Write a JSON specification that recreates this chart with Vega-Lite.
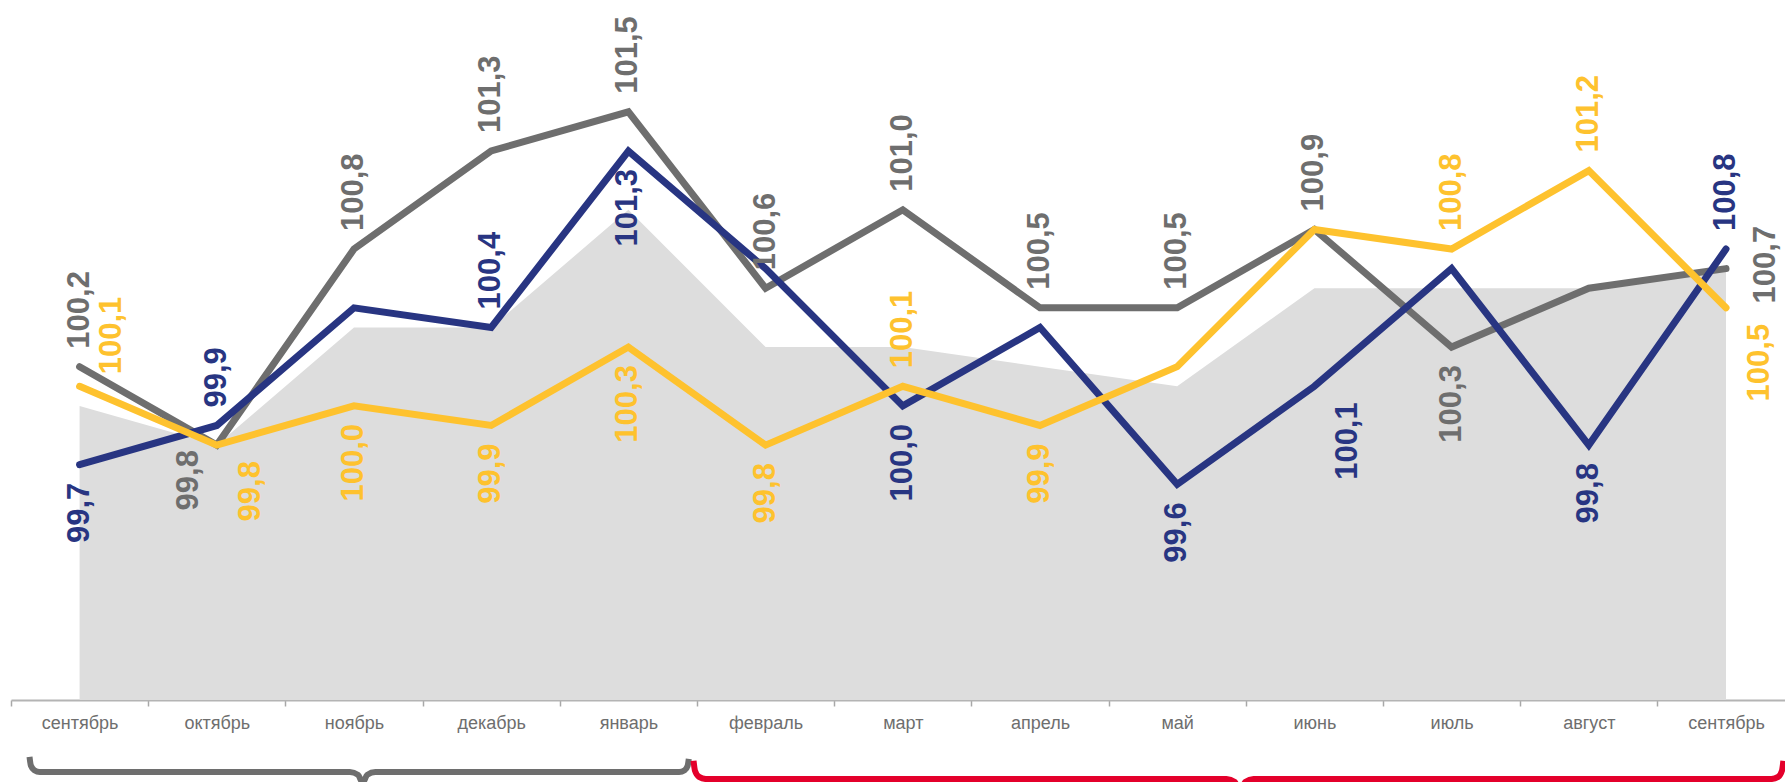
{
  "$schema": "https://vega.github.io/schema/vega-lite/v6.json",
  "width": 1774,
  "height": 700,
  "autosize": {"type": "none"},
  "padding": {"left": 11, "top": 0, "right": 0, "bottom": 82},
  "background": "white",
  "config": {
    "view": {"stroke": null},
    "font": "Liberation Sans",
    "locale": {"number": {"decimal": ",", "thousands": " ", "grouping": [3], "currency": ["", " ₽"]}}
  },
  "datasets": {
    "area": [
      {"i": 0, "month": "сентябрь", "value": 100.0},
      {"i": 1, "month": "октябрь", "value": 99.8},
      {"i": 2, "month": "ноябрь", "value": 100.4},
      {"i": 3, "month": "декабрь", "value": 100.4},
      {"i": 4, "month": "январь", "value": 101.0},
      {"i": 5, "month": "февраль", "value": 100.3},
      {"i": 6, "month": "март", "value": 100.3},
      {"i": 7, "month": "апрель", "value": 100.2},
      {"i": 8, "month": "май", "value": 100.1},
      {"i": 9, "month": "июнь", "value": 100.6},
      {"i": 10, "month": "июль", "value": 100.6},
      {"i": 11, "month": "август", "value": 100.6},
      {"i": 12, "month": "сентябрь", "value": 100.7}
    ],
    "lines": [
      {"series": "Ряд 1", "i": 0, "month": "сентябрь", "value": 100.2, "pos": "up"},
      {"series": "Ряд 1", "i": 1, "month": "октябрь", "value": 99.8, "pos": "downL"},
      {"series": "Ряд 1", "i": 2, "month": "ноябрь", "value": 100.8, "pos": "up"},
      {"series": "Ряд 1", "i": 3, "month": "декабрь", "value": 101.3, "pos": "up"},
      {"series": "Ряд 1", "i": 4, "month": "январь", "value": 101.5, "pos": "up"},
      {"series": "Ряд 1", "i": 5, "month": "февраль", "value": 100.6, "pos": "up"},
      {"series": "Ряд 1", "i": 6, "month": "март", "value": 101.0, "pos": "up"},
      {"series": "Ряд 1", "i": 7, "month": "апрель", "value": 100.5, "pos": "up"},
      {"series": "Ряд 1", "i": 8, "month": "май", "value": 100.5, "pos": "up"},
      {"series": "Ряд 1", "i": 9, "month": "июнь", "value": 100.9, "pos": "up"},
      {"series": "Ряд 1", "i": 10, "month": "июль", "value": 100.3, "pos": "down"},
      {"series": "Ряд 1", "i": 11, "month": "август", "value": 100.6, "pos": "none"},
      {"series": "Ряд 1", "i": 12, "month": "сентябрь", "value": 100.7, "pos": "right"},
      {"series": "Ряд 2", "i": 0, "month": "сентябрь", "value": 99.7, "pos": "down"},
      {"series": "Ряд 2", "i": 1, "month": "октябрь", "value": 99.9, "pos": "up"},
      {"series": "Ряд 2", "i": 2, "month": "ноябрь", "value": 100.5, "pos": "none"},
      {"series": "Ряд 2", "i": 3, "month": "декабрь", "value": 100.4, "pos": "up"},
      {"series": "Ряд 2", "i": 4, "month": "январь", "value": 101.3, "pos": "down"},
      {"series": "Ряд 2", "i": 5, "month": "февраль", "value": 100.7, "pos": "none"},
      {"series": "Ряд 2", "i": 6, "month": "март", "value": 100.0, "pos": "down"},
      {"series": "Ряд 2", "i": 7, "month": "апрель", "value": 100.4, "pos": "none"},
      {"series": "Ряд 2", "i": 8, "month": "май", "value": 99.6, "pos": "down"},
      {"series": "Ряд 2", "i": 9, "month": "июнь", "value": 100.1, "pos": "downR"},
      {"series": "Ряд 2", "i": 10, "month": "июль", "value": 100.7, "pos": "none"},
      {"series": "Ряд 2", "i": 11, "month": "август", "value": 99.8, "pos": "down"},
      {"series": "Ряд 2", "i": 12, "month": "сентябрь", "value": 100.8, "pos": "up"},
      {"series": "Ряд 3", "i": 0, "month": "сентябрь", "value": 100.1, "pos": "upR"},
      {"series": "Ряд 3", "i": 1, "month": "октябрь", "value": 99.8, "pos": "downR"},
      {"series": "Ряд 3", "i": 2, "month": "ноябрь", "value": 100.0, "pos": "down"},
      {"series": "Ряд 3", "i": 3, "month": "декабрь", "value": 99.9, "pos": "down"},
      {"series": "Ряд 3", "i": 4, "month": "январь", "value": 100.3, "pos": "down"},
      {"series": "Ряд 3", "i": 5, "month": "февраль", "value": 99.8, "pos": "down"},
      {"series": "Ряд 3", "i": 6, "month": "март", "value": 100.1, "pos": "up"},
      {"series": "Ряд 3", "i": 7, "month": "апрель", "value": 99.9, "pos": "down"},
      {"series": "Ряд 3", "i": 8, "month": "май", "value": 100.2, "pos": "none"},
      {"series": "Ряд 3", "i": 9, "month": "июнь", "value": 100.9, "pos": "none"},
      {"series": "Ряд 3", "i": 10, "month": "июль", "value": 100.8, "pos": "up"},
      {"series": "Ряд 3", "i": 11, "month": "август", "value": 101.2, "pos": "up"},
      {"series": "Ряд 3", "i": 12, "month": "сентябрь", "value": 100.5, "pos": "downR"}
    ],
    "brackets": [
      {"series": "скобка 1", "ord": 1, "i": -0.365, "value": 98.21},
      {"series": "скобка 1", "ord": 2, "i": -0.355, "value": 98.165},
      {"series": "скобка 1", "ord": 3, "i": -0.33, "value": 98.142},
      {"series": "скобка 1", "ord": 4, "i": -0.29, "value": 98.133},
      {"series": "скобка 1", "ord": 5, "i": 1.97, "value": 98.133},
      {"series": "скобка 1", "ord": 6, "i": 2.03, "value": 98.118},
      {"series": "скобка 1", "ord": 7, "i": 2.063, "value": 98.078},
      {"series": "скобка 1", "ord": 8, "i": 2.096, "value": 98.118},
      {"series": "скобка 1", "ord": 9, "i": 2.156, "value": 98.133},
      {"series": "скобка 1", "ord": 10, "i": 4.37, "value": 98.133},
      {"series": "скобка 1", "ord": 11, "i": 4.41, "value": 98.142},
      {"series": "скобка 1", "ord": 12, "i": 4.432, "value": 98.165},
      {"series": "скобка 1", "ord": 13, "i": 4.44, "value": 98.2},
      {"series": "скобка 2", "ord": 1, "i": 4.475, "value": 98.19},
      {"series": "скобка 2", "ord": 2, "i": 4.485, "value": 98.14},
      {"series": "скобка 2", "ord": 3, "i": 4.515, "value": 98.108},
      {"series": "скобка 2", "ord": 4, "i": 4.565, "value": 98.097},
      {"series": "скобка 2", "ord": 5, "i": 8.36, "value": 98.097},
      {"series": "скобка 2", "ord": 6, "i": 8.42, "value": 98.082},
      {"series": "скобка 2", "ord": 7, "i": 8.458, "value": 98.03},
      {"series": "скобка 2", "ord": 8, "i": 8.496, "value": 98.082},
      {"series": "скобка 2", "ord": 9, "i": 8.556, "value": 98.097},
      {"series": "скобка 2", "ord": 10, "i": 12.33, "value": 98.097},
      {"series": "скобка 2", "ord": 11, "i": 12.38, "value": 98.108},
      {"series": "скобка 2", "ord": 12, "i": 12.408, "value": 98.14},
      {"series": "скобка 2", "ord": 13, "i": 12.418, "value": 98.19}
    ]
  },
  "encoding": {
    "x": {
      "field": "i",
      "type": "quantitative",
      "scale": {"domain": [-0.5, 12.43], "nice": false, "zero": false},
      "axis": {
        "values": [-0.5, 0.5, 1.5, 2.5, 3.5, 4.5, 5.5, 6.5, 7.5, 8.5, 9.5, 10.5, 11.5],
        "labelExpr": "['сентябрь','октябрь','ноябрь','декабрь','январь','февраль','март','апрель','май','июнь','июль','август','сентябрь'][round(datum.value + 0.5)]",
        "labelOffset": 68.6,
        "title": null,
        "grid": false,
        "domainColor": "#b4b4b4",
        "domainWidth": 2,
        "tickColor": "#a8a8a8",
        "tickWidth": 1.5,
        "tickSize": 6,
        "labelFont": "Liberation Sans",
        "labelFontSize": 18,
        "labelColor": "#6e6e6e",
        "labelPadding": 8,
        "labelFlush": false,
        "labelOverlap": false,
        "labelBound": false
      }
    },
    "y": {
      "field": "value",
      "type": "quantitative",
      "scale": {"domain": [98.5, 102.07], "nice": false, "zero": false},
      "axis": null
    },
    "color": {
      "field": "series",
      "type": "nominal",
      "scale": {
        "domain": ["Ряд 1", "Ряд 2", "Ряд 3", "скобка 1", "скобка 2"],
        "range": ["#6e6e6e", "#283582", "#fec22e", "#6e6e6e", "#e4002b"]
      },
      "legend": null
    }
  },
  "layer": [
    {
      "data": {"name": "area"},
      "mark": {"type": "area", "color": "#dddddd"},
      "encoding": {"y2": {"datum": 98.5}, "color": {"value": "#dddddd"}}
    },
    {
      "data": {"name": "lines"},
      "mark": {"type": "line", "strokeWidth": 7, "strokeCap": "round", "strokeJoin": "miter"},
      "encoding": {"order": {"field": "i"}}
    },
    {
      "data": {"name": "brackets"},
      "mark": {"type": "line", "strokeWidth": 6, "strokeCap": "butt", "strokeJoin": "round", "interpolate": "monotone", "clip": false},
      "encoding": {"order": {"field": "ord"}}
    },
    {
      "data": {"name": "lines"},
      "transform": [{"filter": "datum.pos === 'up'"}],
      "mark": {"type": "text", "angle": 270, "align": "left", "baseline": "middle", "dx": 18, "dy": 0, "fontSize": 31, "fontWeight": "bold", "font": "Liberation Sans"},
      "encoding": {"text": {"field": "value", "type": "quantitative", "format": ".1f"}}
    },
    {
      "data": {"name": "lines"},
      "transform": [{"filter": "datum.pos === 'down'"}],
      "mark": {"type": "text", "angle": 270, "align": "right", "baseline": "middle", "dx": -18, "dy": 0, "fontSize": 31, "fontWeight": "bold", "font": "Liberation Sans"},
      "encoding": {"text": {"field": "value", "type": "quantitative", "format": ".1f"}}
    },
    {
      "data": {"name": "lines"},
      "transform": [{"filter": "datum.pos === 'upR'"}],
      "mark": {"type": "text", "angle": 270, "align": "left", "baseline": "middle", "dx": 12, "dy": 32, "fontSize": 31, "fontWeight": "bold", "font": "Liberation Sans"},
      "encoding": {"text": {"field": "value", "type": "quantitative", "format": ".1f"}}
    },
    {
      "data": {"name": "lines"},
      "transform": [{"filter": "datum.pos === 'downR'"}],
      "mark": {"type": "text", "angle": 270, "align": "right", "baseline": "middle", "dx": -16, "dy": 34, "fontSize": 31, "fontWeight": "bold", "font": "Liberation Sans"},
      "encoding": {"text": {"field": "value", "type": "quantitative", "format": ".1f"}}
    },
    {
      "data": {"name": "lines"},
      "transform": [{"filter": "datum.pos === 'downL'"}],
      "mark": {"type": "text", "angle": 270, "align": "right", "baseline": "middle", "dx": -5, "dy": -28, "fontSize": 31, "fontWeight": "bold", "font": "Liberation Sans"},
      "encoding": {"text": {"field": "value", "type": "quantitative", "format": ".1f"}}
    },
    {
      "data": {"name": "lines"},
      "transform": [{"filter": "datum.pos === 'right'"}],
      "mark": {"type": "text", "angle": 270, "align": "center", "baseline": "middle", "dx": 4, "dy": 40, "fontSize": 31, "fontWeight": "bold", "font": "Liberation Sans"},
      "encoding": {"text": {"field": "value", "type": "quantitative", "format": ".1f"}}
    }
  ]
}
